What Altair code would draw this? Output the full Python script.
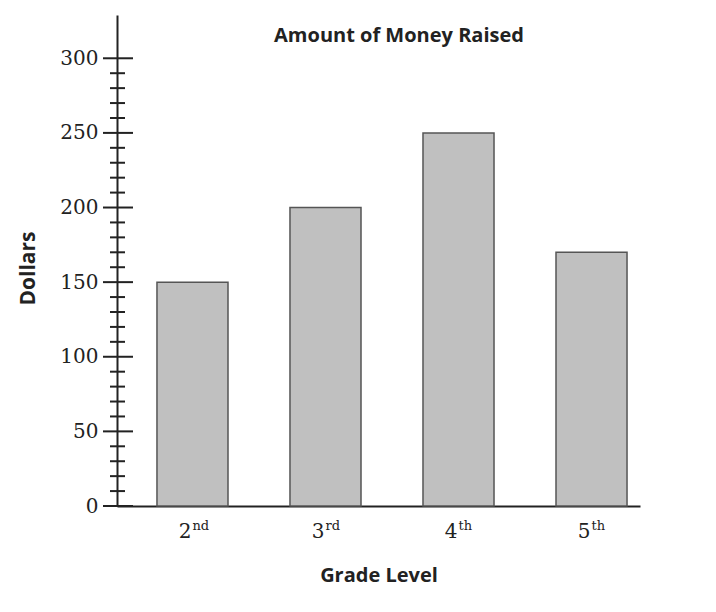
import altair as alt
import pandas as pd

grades = ["2nd", "3rd", "4th", "5th"]
numerals = ["2", "3", "4", "5"]
suffixes = ["nd", "rd", "th", "th"]
dollars = [150, 200, 250, 170]

major_ticks = [0, 50, 100, 150, 200, 250, 300]
minor_ticks = [v for v in range(10, 300, 10) if v % 50 != 0]

title_text = ["Amount of Money Raised"]

df = pd.DataFrame({"grade": grades, "num": numerals, "sup": suffixes, "dollars": dollars})
majors = pd.DataFrame({"v": major_ticks})
minors = pd.DataFrame({"v": minor_ticks})

W, H = 523, 491
ink = "#222222"
serif = "DejaVu Serif"
sans = "Open Sans"

# band layout: 40px gap on the left, ~13px on the right
xscale = alt.Scale(domain=grades, paddingInner=0.466, paddingOuter=0.199, align=0.755)
yscale = alt.Scale(domain=[0, 329], nice=False)

bars = alt.Chart(df).mark_bar(color="#c0c0c0", stroke="#555555", strokeWidth=1.5).encode(
    x=alt.X("grade:N", scale=xscale, sort=grades,
            axis=alt.Axis(labels=False, ticks=False, domainColor=ink, domainWidth=2,
                          title="Grade Level", titleFont=sans, titleFontSize=20,
                          titleFontWeight="bold", titleColor=ink,
                          titleBaseline="middle", titleY=69)),
    y=alt.Y("dollars:Q", scale=yscale,
            axis=alt.Axis(values=major_ticks, ticks=False, grid=False, domainColor=ink,
                          domainWidth=2, labelFont=serif, labelFontSize=20, labelColor=ink,
                          labelPadding=19, title="Dollars", titleFont=sans, titleFontSize=21,
                          titleFontWeight="bold", titleColor=ink, titleX=-89, titleY=253,
                          titleAlign="center", titleBaseline="middle")),
)

major_rules = alt.Chart(majors).mark_rule(color=ink, strokeWidth=2).encode(
    y=alt.Y("v:Q", scale=yscale), x=alt.value(-14), x2=alt.value(16))
minor_rules = alt.Chart(minors).mark_rule(color=ink, strokeWidth=2).encode(
    y=alt.Y("v:Q", scale=yscale), x=alt.value(-7), x2=alt.value(8))

num_text = alt.Chart(df).mark_text(font=serif, fontSize=20, color=ink, align="right",
                                   baseline="alphabetic", dx=-1).encode(
    x=alt.X("grade:N", scale=xscale, sort=grades), y=alt.value(523), text="num:N")
sup_text = alt.Chart(df).mark_text(font=serif, fontSize=13, color=ink, align="left",
                                   baseline="alphabetic", dx=0).encode(
    x=alt.X("grade:N", scale=xscale, sort=grades), y=alt.value(515), text="sup:N")

title = alt.Chart(pd.DataFrame({"t": title_text})).mark_text(
    font=sans, fontSize=20, fontWeight="bold", color=ink, baseline="alphabetic").encode(
    x=alt.value(282), y=alt.value(27), text="t:N")

chart = alt.layer(bars, major_rules, minor_rules, num_text, sup_text, title).properties(
    width=W, height=H,
    autosize=alt.AutoSizeParams(type="none"),
    padding={"left": 109, "top": 7, "right": 60, "bottom": 100},
).configure_view(stroke=None)

chart.save("out.html", embed_options={"renderer": "svg", "actions": False})
